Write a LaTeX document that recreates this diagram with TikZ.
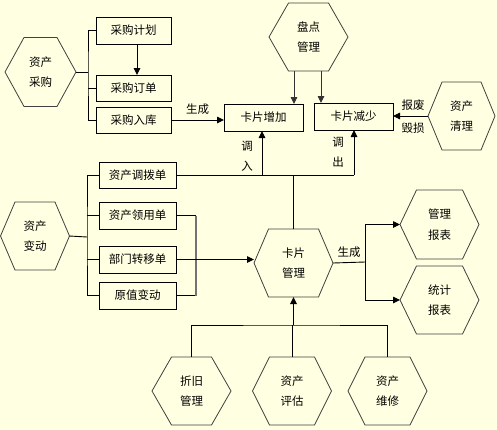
\documentclass[tikz,border=0pt]{standalone}
\usepackage{fontspec}
\setmainfont{Noto Sans CJK SC}
\usetikzlibrary{arrows.meta,calc}
\definecolor{bgyel}{RGB}{255,255,225}
\tikzset{
  every node/.style={font=\fontsize{11.5}{14}\selectfont},
  box/.style={draw, line width=0.9pt, inner sep=0pt, outer sep=0pt},
  hexn/.style={inner sep=0pt, outer sep=0pt, align=center, font=\fontsize{11.5}{20.5}\selectfont},
  hexline/.style={draw=black!75, line width=0.8pt},
  conn/.style={line width=0.9pt},
  arr/.style={line width=0.9pt, -{Triangle[length=7pt,width=6.5pt]}},
  lbl/.style={inner sep=0pt}
}
\newcommand{\hexnode}[6]{%
  \node[hexn, minimum width=#3, minimum height=#4] (#1) at (#2) {#6};
  \draw[hexline] (#1.west) -- ([xshift=#5]#1.north west) -- ([xshift=-#5]#1.north east)
    -- (#1.east) -- ([xshift=-#5]#1.south east) -- ([xshift=#5]#1.south west) -- cycle;}
\begin{document}
\begin{tikzpicture}[x=1pt,y=-1pt]
\fill[bgyel] (0,0) rectangle (497,429);
\useasboundingbox (0,0) rectangle (497,429);

% hexagons
\hexnode{cg}{40.5,72}{71}{69}{19}{资产\\采购}
\hexnode{pd}{308.5,37}{79}{68}{19.5}{盘点\\管理}
\hexnode{ql}{461.5,116}{67}{68}{14}{资产\\清理}
\hexnode{bd}{35,236}{69}{68}{14.5}{资产\\变动}
\hexnode{kg}{293.5,263}{79}{68}{14.5}{卡片\\管理}
\hexnode{gl}{439.5,224.5}{79}{69}{16.5}{管理\\报表}
\hexnode{tj}{439.5,300}{79}{68}{16.5}{统计\\报表}
\hexnode{zjg}{191.5,391}{79}{68}{19.5}{折旧\\管理}
\hexnode{pg}{292,391}{79}{68}{17}{资产\\评估}
\hexnode{wx}{387.5,391}{79}{68}{17}{资产\\维修}

% boxes
\node[box, minimum width=75, minimum height=27] (jh) at (133.5,30.5) {采购计划};
\node[box, minimum width=75, minimum height=26] (dd) at (133.5,88) {采购订单};
\node[box, minimum width=75, minimum height=26] (rk) at (133.5,120) {采购入库};
\node[box, minimum width=79, minimum height=27] (zj) at (263.5,117.5) {卡片增加};
\node[box, minimum width=79, minimum height=27] (js) at (353.5,116.5) {卡片减少};
\node[box, minimum width=77, minimum height=26] (db) at (137.5,175) {资产调拨单};
\node[box, minimum width=77, minimum height=27] (ly) at (137.5,215.5) {资产领用单};
\node[box, minimum width=77, minimum height=27] (bm) at (137.5,259.5) {部门转移单};
\node[box, minimum width=77, minimum height=27] (yz) at (137.5,295.5) {原值变动};

% purchase bracket
\coordinate (b1) at (88,72);
\draw[conn] (cg.east) -- (b1);
\draw[conn] (jh.west) -| (b1) |- (rk.west);
\draw[conn] (dd.west) -- (dd.west -| b1);
\coordinate (jhs) at ([xshift=3.5]jh.south);
\draw[arr] (jhs) -- (jhs |- dd.north);
\draw[arr] (rk.east) -- node[lbl, above=5pt] {生成} (rk.east -| zj.west);

% inventory
\coordinate (p1) at ($(pd.south)+(-14.5,0)$);
\coordinate (p2) at ($(pd.south)+(12.5,0)$);
\draw[arr, black!80] (p1) -- (p1 |- zj.north);
\draw[arr, black!80] (p2) -- (p2 |- js.north);

% disposal
\draw[arr] (ql.west) -- (ql.west -| js.east);
\node[lbl] (bf) at (413,105) {报废};
\node[lbl] (hs) at (413,128) {毁损};

% transfer bus
\coordinate (busR) at (354,175);
\coordinate (busL) at (262,175);
\draw[conn] (db.east) -- (busR);
\draw[arr] (busR) -- (busR |- js.south);
\draw[arr] (busL) -- (busL |- zj.south);
\draw[conn] (kg.north) -- (kg.north |- db.east);
\node[lbl] (dr1) at (247,146) {调};
\node[lbl] (dr2) at (247,166) {入};
\node[lbl] (dc1) at (338,142) {调};
\node[lbl] (dc2) at (338,162) {出};

% change bracket
\coordinate (b2) at (87,237);
\draw[conn] (bd.east) -- (b2);
\draw[conn] (db.west) -| (b2) |- (yz.west);
\draw[conn] (ly.west) -- (ly.west -| b2);
\draw[conn] (bm.west) -- (bm.west -| b2);
\draw[conn] (ly.east) -- ++(20,0) coordinate (c1);
\draw[conn] (yz.east) -- ++(20,0) coordinate (c2);
\draw[line width=1.6pt, black!55] (c1) -- (c2);
\draw[arr] (bm.east) -- (bm.east -| kg.west);

% reports
\coordinate (b3) at (365,262);
\draw[conn] (kg.east) -- node[lbl, above=5pt] {生成} (b3);
\draw[arr] (b3) |- (gl.west);
\draw[arr] (b3) |- (tj.west);

% bottom
\coordinate (b4) at (293.5,325);
\draw[line width=1.6pt, -{Triangle[length=7pt,width=6.5pt]}] (b4) -- (kg.south);
\draw[conn] (zjg.north) |- (b4) -| (wx.north);
\draw[conn] (pg.north) -- (pg.north |- b4);
\end{tikzpicture}
\end{document}
